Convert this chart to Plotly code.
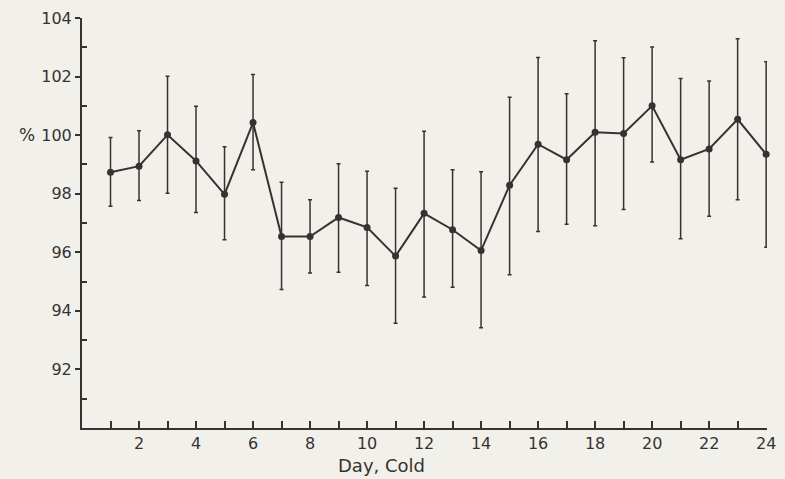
import plotly.graph_objects as go

days = list(range(1, 25))
values = [98.73, 98.94, 100.01, 99.12, 97.98, 100.43, 96.54, 96.54, 97.19, 96.85,
          95.87, 97.33, 96.77, 96.06, 98.29, 99.69, 99.16, 100.10, 100.06, 101.00,
          99.16, 99.53, 100.54, 99.35]
upper = [99.92, 100.15, 102.01, 100.99, 99.60, 102.07, 98.39, 97.79, 99.02, 98.77,
         98.19, 100.13, 98.82, 98.75, 101.29, 102.65, 101.41, 103.22, 102.64, 103.01,
         101.93, 101.85, 103.29, 102.51]
lower = [97.57, 97.77, 98.02, 97.36, 96.43, 98.82, 94.73, 95.29, 95.32, 94.87,
         93.58, 94.47, 94.81, 93.42, 95.23, 96.71, 96.96, 96.91, 97.46, 99.08,
         96.46, 97.23, 97.79, 96.17]
x_ticks = list(range(2, 25, 2))
y_ticks = [92, 94, 96, 98, 100, 102, 104]

err_plus = [u - v for u, v in zip(upper, values)]
err_minus = [v - l for v, l in zip(values, lower)]

ink = "#353330"
paper = "#f2f0eb"
font = "DejaVu Sans"

fig = go.Figure()
fig.add_trace(go.Scatter(
    x=days, y=values, mode="lines+markers",
    line=dict(color=ink, width=2),
    marker=dict(color=ink, size=7),
    error_y=dict(type="data", symmetric=False, array=err_plus, arrayminus=err_minus,
                 color=ink, thickness=1.5, width=2),
    showlegend=False, cliponaxis=False,
))

fig.update_layout(
    width=785, height=479,
    margin=dict(l=82, r=9, t=17, b=51),
    paper_bgcolor=paper, plot_bgcolor=paper,
    font=dict(family=font, color=ink, size=16),
    xaxis=dict(range=[0, 24.03], tickmode="array", tickvals=x_ticks,
               ticks="inside", ticklen=7, tickwidth=1.5, tickcolor=ink,
               showline=True, linecolor=ink, linewidth=2, showgrid=False,
               zeroline=False, tickfont=dict(size=16), ticklabeloverflow="allow",
               minor=dict(tickvals=list(range(1, 25, 2)), ticks="inside", ticklen=7,
                          tickwidth=1.5, tickcolor=ink, showgrid=False)),
    yaxis=dict(range=[90, 104], tickmode="array", tickvals=y_ticks,
               ticks="outside", ticklen=5, tickwidth=1.5, tickcolor=ink,
               showline=True, linecolor=ink, linewidth=2, showgrid=False,
               zeroline=False, tickfont=dict(size=16),
               minor=dict(tickvals=[91, 93, 95, 97, 99, 101, 103], ticks="inside",
                          ticklen=5, tickwidth=1.5, tickcolor=ink, showgrid=False)),
)

fig.add_annotation(x=10.5, xref="x", y=-0.062, yref="paper", text="Day, Cold",
                   showarrow=False, yanchor="top", font=dict(size=18))
fig.add_annotation(x=-0.095, xref="paper", xanchor="left", y=100, yref="y", text="%",
                   showarrow=False, font=dict(size=17))

fig.write_html("out.html")
